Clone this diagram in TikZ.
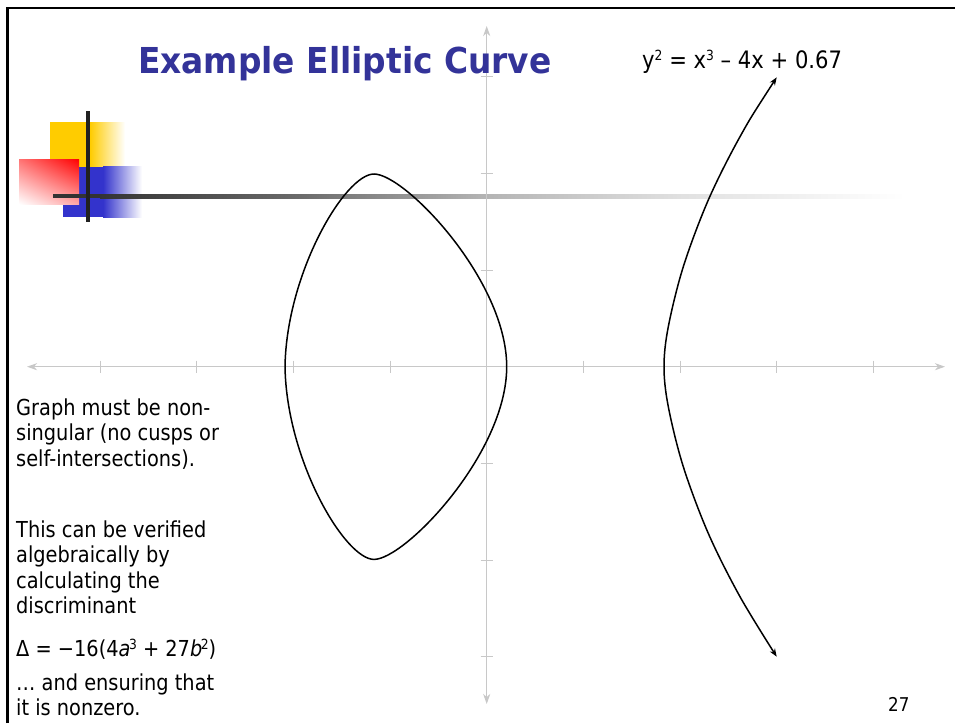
\documentclass[tikz,border=0pt]{standalone}
\usepackage{fontspec}
\setmainfont{DejaVu Sans}[FakeStretch=0.88]
\newfontfamily\titlefont{DejaVu Sans}[FakeStretch=0.92]
\usetikzlibrary{arrows.meta,shadings}
\definecolor{titleblue}{RGB}{51,51,153}
\definecolor{axisgray}{RGB}{200,200,200}
\definecolor{decoyellow}{RGB}{255,204,0}
\definecolor{decoblue}{RGB}{51,51,204}
\definecolor{decored}{RGB}{255,0,0}
\newcommand\mysup[2]{\raisebox{#1}{\fontsize{14}{14}\selectfont #2}}
\tikzset{
  bodytext/.style={anchor=base west, inner sep=0pt, font=\fontsize{22}{25}\selectfont},
  axisline/.style={draw=axisgray, line width=1.3pt},
  curveline/.style={draw=black, line width=1.5pt},
}
\begin{document}
\begin{tikzpicture}[x=1pt,y=-1pt]
\useasboundingbox (0,0) rectangle (955,723);
\fill[white] (0,0) rectangle (955,723);
% slide frame
\draw[line width=2.7pt] (7.5,723) -- (7.5,8) -- (955,8);
% decoration
\fill[decoyellow] (50,122) rectangle (90.5,167);
\shade[left color=decoyellow, right color=white] (90,122) rectangle (125,167);
\fill[decoblue] (63,167) rectangle (103.5,217);
\shade[left color=decoblue, right color=white] (103,166) rectangle (142,217);
\shade[upper right=decored, upper left=decored!55, lower right=decored!35, lower left=white] (19,159) rectangle (79,204);
% horizontal gradient rule
\fill[black!80] (53,194) rectangle (100.5,198);
\shade[left color=black!80, right color=black!58] (100,194) rectangle (300.5,198);
\shade[left color=black!58, right color=black!30] (300,194) rectangle (480.5,198);
\shade[left color=black!30, right color=black!12] (480,194) rectangle (680.5,198);
\shade[left color=black!12, right color=white] (680,194) rectangle (905,198);
\fill[black!87] (86,111) rectangle (90,222);
% axes
\coordinate (xl) at (27,366.7);
\coordinate (xr) at (945,366.7);
\coordinate (yt) at (486.7,26);
\coordinate (yb) at (486.7,704);
\draw[axisline, {Stealth[length=10pt,width=7pt,inset=3pt]}-{Stealth[length=10pt,width=7pt,inset=3pt]}] (xl) -- (xr);
\draw[axisline, {Stealth[length=10pt,width=7pt,inset=3pt]}-{Stealth[length=10pt,width=7pt,inset=3pt]}] (yt) -- (yb);
\foreach \x in {100,196.7,293.3,390,583.4,680,776.8,873.5}
  \draw[axisline, line width=1pt] (\x,360.7) -- (\x,372.7);
\foreach \y in {76.7,173.3,270,463.3,560,656.7}
  \draw[axisline, line width=1pt] (480.7,\y) -- (492.7,\y);
% curve: oval
\coordinate (ovl) at (285,366.7);
\coordinate (ovt) at (374,174);
\coordinate (ovr) at (506.7,366.7);
\coordinate (ovb) at (374,559.4);
\draw[curveline] (ovl) .. controls (286.5,273) and (345,174) .. (ovt)
  .. controls (405,174) and (506.7,280) .. (ovr)
  .. controls (506.7,453.4) and (405,559.4) .. (ovb)
  .. controls (345,559.4) and (286.5,460.4) .. (ovl) -- cycle;
% curve: right branch
\draw[curveline, {Stealth[length=8pt,width=6pt]}-{Stealth[length=8pt,width=6pt]}] plot[smooth, tension=0.55] coordinates {
 (776.7,77.3) (740,136.7) (708.3,200) (683.3,266.7) (668.3,326.7) (664,366.7)
 (668.3,406.7) (683.3,466.7) (708.3,533.4) (740,596.7) (776.7,656.7)};
% texts
\node[anchor=base west, inner sep=0pt, text=titleblue, font=\titlefont\bfseries\fontsize{35.7}{40}\selectfont] (title) at (138,73) {Example Elliptic Curve};
\node[bodytext, font=\fontsize{24}{26}\selectfont] (eq) at (642,68) {y\mysup{7.5pt}{2} = x\mysup{7.5pt}{3} – 4x + 0.67};
\node[bodytext] (l1) at (16,415) {Graph must be non-};
\node[bodytext] (l2) at (16,440.5) {singular (no cusps or};
\node[bodytext] (l3) at (16,466) {self-intersections).};
\node[bodytext] (l4) at (16,537) {This can be verified};
\node[bodytext] (l5) at (16,562.5) {algebraically by};
\node[bodytext] (l6) at (16,588) {calculating the};
\node[bodytext] (l7) at (16,613.5) {discriminant};
\node[bodytext] (l8) at (16,656) {Δ = −16(4\textit{a}\kern-1.5pt\mysup{7pt}{3} + 27\textit{b}\kern-1.5pt\mysup{7pt}{2})};
\node[bodytext] (l9) at (16,690) {… and ensuring that};
\node[bodytext] (l10) at (16,715.5) {it is nonzero.};
\node[bodytext, font=\fontsize{19}{22}\selectfont] (pg) at (888,711) {27};
\end{tikzpicture}
\end{document}
